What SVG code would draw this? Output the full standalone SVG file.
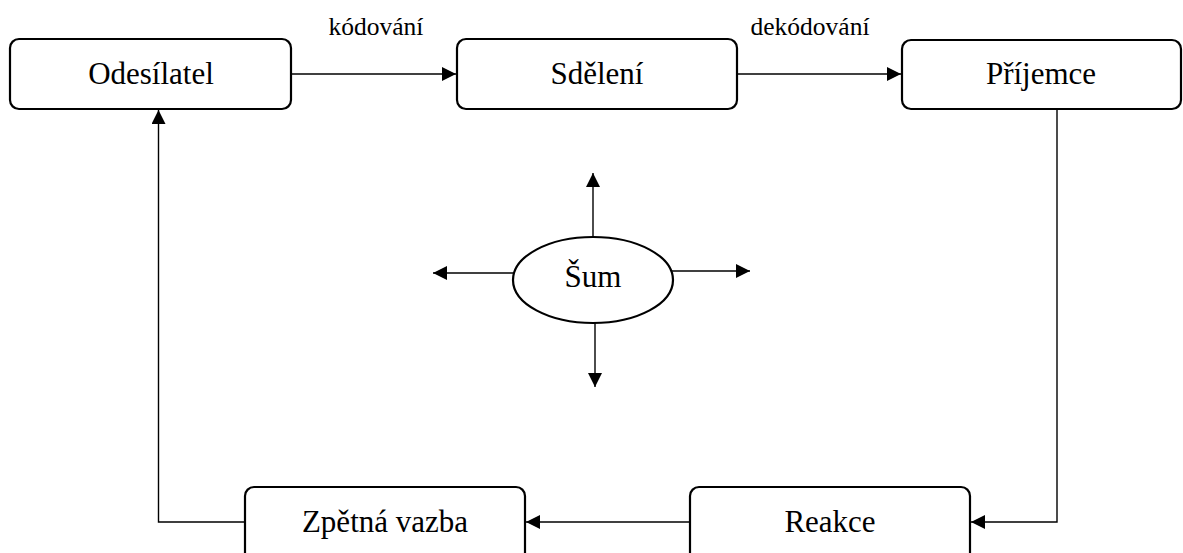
<svg xmlns="http://www.w3.org/2000/svg" width="1183" height="553" viewBox="0 0 1183 553">
<style>
.box{fill:#fff;stroke:#000;stroke-width:2.2}
.t{font-family:'Liberation Serif','DejaVu Serif',serif;font-size:31px;fill:#000;text-anchor:middle}
.l{font-family:'Liberation Serif','DejaVu Serif',serif;font-size:25.5px;fill:#000;text-anchor:middle}
.c{fill:none;stroke:#000;stroke-width:1.4}
</style>
<defs>
<marker id="ah" viewBox="0 0 14 14" refX="14" refY="7" markerWidth="14" markerHeight="14" markerUnits="userSpaceOnUse" orient="auto">
<path d="M0,0 L14,7 L0,14 Z" fill="#000"/>
</marker>
</defs>
<rect width="1183" height="553" fill="#fff"/>
<g id="connectors">
<line class="c" x1="291" y1="74" x2="456" y2="74" marker-end="url(#ah)"/>
<line class="c" x1="737" y1="74" x2="901" y2="74" marker-end="url(#ah)"/>
<polyline class="c" points="1057,109 1057,522 971,522" marker-end="url(#ah)"/>
<line class="c" x1="690" y1="522" x2="526" y2="522" marker-end="url(#ah)"/>
<polyline class="c" points="245,522 158.5,522 158.5,110" marker-end="url(#ah)"/>
<line class="c" x1="593" y1="237" x2="593" y2="173" marker-end="url(#ah)"/>
<line class="c" x1="595" y1="323" x2="595" y2="387" marker-end="url(#ah)"/>
<line class="c" x1="513" y1="273" x2="433" y2="273" marker-end="url(#ah)"/>
<line class="c" x1="672" y1="271" x2="750" y2="271" marker-end="url(#ah)"/>
<text class="l" x="376" y="35" font-family="Liberation Serif">kódování</text>
<text class="l" x="810" y="35" font-family="Liberation Serif">dekódování</text>
</g>
<g id="odesilatel">
<rect class="box" x="10" y="39" width="281" height="70" rx="9"/>
<text class="t" x="151" y="84">Odesílatel</text>
</g>
<g id="sdeleni">
<rect class="box" x="457" y="39" width="280" height="70" rx="9"/>
<text class="t" x="597" y="84">Sdělení</text>
</g>
<g id="prijemce">
<rect class="box" x="902" y="40" width="279" height="69" rx="9"/>
<text class="t" x="1041" y="84">Příjemce</text>
</g>
<g id="sum">
<ellipse class="box" cx="593" cy="280" rx="80" ry="43"/>
<text class="t" x="593" y="287">Šum</text>
</g>
<g id="reakce">
<rect class="box" x="690" y="487" width="280" height="80" rx="9"/>
<text class="t" x="830" y="532">Reakce</text>
</g>
<g id="zpetna">
<rect class="box" x="245" y="487" width="280" height="80" rx="9"/>
<text class="t" x="385" y="532">Zpětná vazba</text>
</g>
</svg>
